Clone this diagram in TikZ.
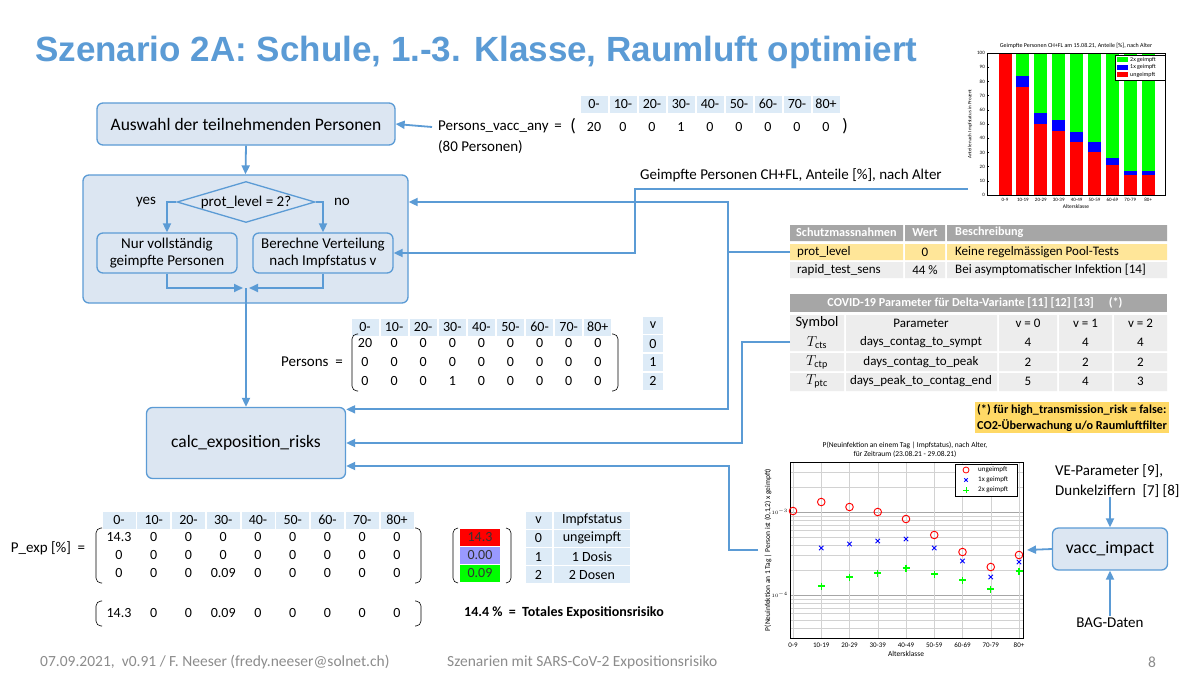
\documentclass[tikz,border=0pt]{standalone}
\usepackage{fontspec}
\setmainfont{Carlito}
\newfontfamily\titlefont{Liberation Sans}
\usetikzlibrary{arrows.meta,shapes.geometric,positioning}
\definecolor{flowblue}{HTML}{5B9BD5}
\definecolor{boxfill}{HTML}{DCE6F2}
\definecolor{hdrblue}{HTML}{DDEBF7}
\definecolor{tabgray}{HTML}{A6A6A6}
\definecolor{rowgray}{HTML}{EDEDED}
\definecolor{roworange}{HTML}{FFE699}
\definecolor{notegold}{HTML}{FFD966}
\definecolor{footgray}{HTML}{8C8C8C}
\definecolor{lavender}{HTML}{9999FF}
\newcommand{\fsz}[2]{\fontsize{#1}{#2}\selectfont}
\newcommand{\agelist}{0-,10-,20-,30-,40-,50-,60-,70-,80+}
\tikzset{
  flowbox/.style={draw=flowblue, fill=boxfill, line width=1.3pt, rounded corners=6pt, align=center, inner sep=2pt},
  flow/.style={draw=flowblue, line width=1.8pt, -{Triangle[length=9pt,width=8pt]}},
  hdr/.style={fill=hdrblue, minimum width=27pt, minimum height=17pt, inner sep=0pt, font=\fsz{14}{16}},
  mtxt/.style={inner sep=0pt, font=\fsz{14}{16}},
  mparen/.style={line width=0.6pt, rounded corners=5pt},
  ttxt/.style={inner sep=0pt, font=\fsz{13}{15}},
  thdr/.style={inner sep=0pt, text=white, font={\bfseries\fsz{12.2}{14}}},
  tiny/.style={inner sep=0pt, font=\fsz{5}{6}}
}
\begin{document}
\begin{tikzpicture}[x=1pt,y=-1pt]
\useasboundingbox[fill=white] (0,0) rectangle (1200,675);

% title
\node[anchor=west, inner sep=0pt, text=flowblue, font={\titlefont\bfseries\fsz{35}{40}}] (title) at (35,52) {Szenario 2A: Schule, 1.-3. Klasse, Raumluft optimiert};

% flow chart
\node[flowbox, minimum width=325pt, minimum height=128pt] (grp) at (245.5,239) {};
\node[flowbox, minimum width=298pt, minimum height=42pt, font=\fsz{17.5}{20}] (sel) at (246,124) {Auswahl der teilnehmenden Personen};
\node[diamond, draw=flowblue, line width=1.3pt, fill=boxfill, aspect=3.4, inner sep=0pt, minimum width=138pt, minimum height=41pt, font=\fsz{15}{18}] (dec) at (246,202) {prot\_level = 2?};
\node[font=\fsz{15}{18}] (yes) at (146,202) {yes};
\node[font=\fsz{15}{18}] (no) at (342,202) {no};
\node[flowbox, minimum width=140pt, minimum height=40pt, font=\fsz{15}{17}] (full) at (167,253) {Nur vollständig\\geimpfte Personen};
\node[flowbox, minimum width=140pt, minimum height=40pt, font=\fsz{15}{17}] (dist) at (323,253) {Berechne Verteilung\\nach Impfstatus v};
\node[flowbox, minimum width=199pt, minimum height=71pt, font=\fsz{17.5}{20}] (calc) at (246,443) {calc\_exposition\_risks};
\node[flowbox, minimum width=115pt, minimum height=42pt, font=\fsz{17.5}{20}] (vacc) at (1110,549) {vacc\_impact};
\coordinate (join) at (246,288);

\draw[flow] (sel.south) -- (grp.north);
\draw[flow] (dec.west) -| (full.north);
\draw[flow] (dec.east) -| (dist.north);
\draw[flow] (full.south) |- ([xshift=-3pt]join);
\draw[flow] (dist.south) |- ([xshift=3pt]join);
\draw[flow] (join) -- (calc.north);

% Persons_vacc_any
\node[anchor=west, inner sep=0pt, font=\fsz{15}{18}] (pva) at (438,127) {Persons\_vacc\_any \,=};
\node[anchor=west, inner sep=0pt, font=\fsz{15}{18}] (pvan) at (438,147) {(80 Personen)};
\draw[flow] ([xshift=-6pt]pva.west) -- (sel.east);
\foreach \lab [count=\i from 0] in \agelist
  \node[hdr] (pvh\i) at (594+29*\i,104) {\lab};
\foreach \val [count=\i from 0] in {20,0,0,1,0,0,0,0,0}
  \node[mtxt] (pvv\i) at (594+29*\i,127) {\val};
\node[mtxt, font=\fsz{18}{20}] (pvl) at (573,126) {(};
\node[mtxt, font=\fsz{18}{20}] (pvr) at (845,126) {)};

% Persons matrix
\node[mtxt, font=\fsz{15}{18}] (pers) at (312,362) {Persons \ =};
\foreach \lab [count=\i from 0] in \agelist
  \node[hdr] (pmh\i) at (365+29.1*\i,327) {\lab};
\foreach \row [count=\r from 0] in {{20,0,0,0,0,0,0,0,0},{0,0,0,0,0,0,0,0,0},{0,0,0,1,0,0,0,0,0}}
  \foreach \val [count=\i from 0] in \row
    \node[mtxt] (pm\r-\i) at (365+29.1*\i,343+19*\r) {\val};
\draw[mparen] (358,334) -- (352,334) -- (352,391) -- (358,391);
\draw[mparen] (612,334) -- (618,334) -- (618,391) -- (612,391);
\foreach \lab [count=\r from 0] in {v,0,1,2}
  \node[hdr, minimum width=20pt] (pmv\r) at (653,325+18.7*\r) {\lab};

% P_exp matrix
\node[mtxt, font=\fsz{15}{18}] (pexp) at (48,548) {P\_exp [\%] \ =};
\foreach \lab [count=\i from 0] in \agelist
  \node[hdr, minimum width=33pt] (peh\i) at (119+34.75*\i,520) {\lab};
\foreach \row [count=\r from 0] in {{14.3,0,0,0,0,0,0,0,0},{0,0,0,0,0,0,0,0,0},{0,0,0,0.09,0,0,0,0,0}}
  \foreach \val [count=\i from 0] in \row
    \node[mtxt] (pe\r-\i) at (119+34.75*\i,537+18*\r) {\val};
\draw[mparen] (102,528) -- (96,528) -- (96,583) -- (102,583);
\draw[mparen] (415,528) -- (421,528) -- (421,583) -- (415,583);
\foreach \val [count=\i from 0] in {14.3,0,0,0.09,0,0,0,0,0}
  \node[mtxt] (ps\i) at (119+34.75*\i,613) {\val};
\draw[mparen] (102,601) -- (96,601) -- (96,626) -- (102,626);
\draw[mparen] (415,601) -- (421,601) -- (421,626) -- (415,626);

% risk per vaccination status
\foreach \val/\col [count=\r from 0] in {14.3/red,0.00/lavender,0.09/green}
  \node[mtxt, fill=\col, text=black!80, minimum width=40pt, minimum height=17pt] (pv\r) at (480,537+18*\r) {\val};
\draw[mparen] (458,528) -- (453,528) -- (453,583) -- (458,583);
\draw[mparen] (506,528) -- (511,528) -- (511,583) -- (506,583);
\foreach \v/\lab [count=\r from 0] in {v/Impfstatus,0/ungeimpft,1/1 Dosis,2/2 Dosen} {
  \node[hdr, minimum width=26pt] (iv\r) at (538.5,520+18.3*\r) {\v};
  \node[hdr, minimum width=76pt] (is\r) at (592,520+18.3*\r) {\lab};
}
\node[anchor=west, inner sep=0pt, font={\bfseries\fsz{14}{16}}] (tot) at (464,613) {14.4 \% \ = \ Totales Expositionsrisiko};

% Schutzmassnahmen table
\fill[tabgray] (790,225) rectangle (903,241) (905,225) rectangle (945,241) (947,225) rectangle (1167,241);
\fill[roworange] (790,244) rectangle (903,260) (905,244) rectangle (945,260) (947,244) rectangle (1167,260);
\fill[rowgray] (790,262) rectangle (903,278) (905,262) rectangle (945,278) (947,262) rectangle (1167,278);
\node[thdr, anchor=west] (sh1) at (796,232.5) {Schutzmassnahmen};
\node[thdr] (sh2) at (925,232.5) {Wert};
\node[thdr, anchor=west] (sh3) at (955,232.5) {Beschreibung};
\node[ttxt, anchor=west] (prot) at (797,252) {prot\_level};
\node[ttxt] (protv) at (925,252) {0};
\node[ttxt, anchor=west] (protd) at (955,252) {Keine regelmässigen Pool-Tests};
\node[ttxt, anchor=west] (rts) at (797,270) {rapid\_test\_sens};
\node[ttxt] (rtsv) at (925,270) {44 \%};
\node[ttxt, anchor=west] (rtsd) at (955,270) {Bei asymptomatischer Infektion [14]};
\coordinate (protW) at (790,252);

% COVID-19 parameter table
\fill[tabgray] (790,294) rectangle (1167,312);
\node[thdr] (cvt) at (975,303) {COVID-19 Parameter für Delta-Variante [11] [12] [13] \quad (*)};
\foreach \y in {315,333,353,373}
  \fill[rowgray] (790,\y) rectangle (844,\y+18) (846,\y) rectangle (997,\y+18) (999,\y) rectangle (1057,\y+18) (1059,\y) rectangle (1112,\y+18) (1114,\y) rectangle (1167,\y+18);
\foreach \sym/\prm/\va/\vb/\vc [count=\r from 0] in {Symbol/Parameter/v = 0/v = 1/v = 2,
    $T_{\mathrm{cts}}$/days\_contag\_to\_sympt/4/4/4,
    $T_{\mathrm{ctp}}$/days\_contag\_to\_peak/2/2/2,
    $T_{\mathrm{ptc}}$/days\_peak\_to\_contag\_end/5/4/3} {
  \node[ttxt] (cs\r) at (817,323+19.5*\r) {\fsz{14.4}{16}\sym};
  \node[ttxt] (cp\r) at (921,323+19.5*\r) {\prm};
  \node[ttxt] (ca\r) at (1028,323+19.5*\r) {\va};
  \node[ttxt] (cb\r) at (1085.5,323+19.5*\r) {\vb};
  \node[ttxt] (cc\r) at (1140.5,323+19.5*\r) {\vc};
}
\coordinate (tctsW) at (790,342);
\node[fill=notegold, minimum width=190pt, minimum height=31pt, inner sep=2pt, align=left, font={\bfseries\fsz{12.2}{16}}] (note) at (1072,417.5) {(*) für high\_transmission\_risk = false:\\CO2-Überwachung u/o Raumluftfilter};

% top right chart: vaccinated persons per age class
\node[anchor=west, inner sep=0pt, font=\fsz{15}{18}] (vlab) at (640,175) {Geimpfte Personen CH+FL, Anteile [\%], nach Alter};
\node[tiny, font=\fsz{6}{7}] (ct) at (1076,46) {Geimpfte Personen CH+FL am 15.08.21, Anteile [\%], nach Alter};
\foreach \u/\o/\lab [count=\i from 0] in {100/0/0-9,76/8/10-19,50/8/20-29,45/8/30-39,37/7.5/40-49,30/7/50-59,21/5/60-69,14/3/70-79,14/3/80+} {
  \fill[green] (1005+17.9*\i-6.5,53) rectangle (1005+17.9*\i+6.5,195-1.42*\u-1.42*\o);
  \fill[blue] (1005+17.9*\i-6.5,195-1.42*\u-1.42*\o) rectangle (1005+17.9*\i+6.5,195-1.42*\u);
  \fill[red] (1005+17.9*\i-6.5,195-1.42*\u) rectangle (1005+17.9*\i+6.5,195);
  \node[tiny, font=\fsz{5}{6}] (bx\i) at (1005+17.9*\i,200) {\lab};
}
\draw[line width=0.4pt] (987,53) rectangle (1165,195);
\foreach \t in {0,10,...,100} {
  \draw[line width=0.3pt] (987,195-1.42*\t) -- ++(2,0);
  \node[tiny, font=\fsz{5}{6}, anchor=east] (by\t) at (985,195-1.42*\t) {\t};
}
\node[tiny, font=\fsz{5}{6}, rotate=90] (byl) at (970,124) {Anteile nach Impfstatus in Prozent};
\node[tiny, font=\fsz{5.5}{6}] (bxl) at (1076,207) {Altersklasse};
\draw[fill=white, line width=0.3pt] (1115,55) rectangle (1165,80);
\foreach \col/\lab [count=\r from 0] in {green/2x geimpft,blue/1x geimpft,red/ungeimpft} {
  \fill[\col] (1117,57+7.7*\r) rectangle (1128,62+7.7*\r);
  \node[tiny, font=\fsz{6}{7}, anchor=west] (bl\r) at (1130,59.5+7.7*\r) {\lab};
}
\coordinate (chartA) at (968,189);

% bottom right chart: new infection probability
\node[tiny, font=\fsz{7.5}{8}] (pt1) at (905,445) {P(Neuinfektion an einem Tag | Impfstatus), nach Alter,};
\node[tiny, font=\fsz{7.5}{8}] (pt2) at (905,454) {für Zeitraum (23.08.21 - 29.08.21)};
\begin{scope}
  \clip (790,462) rectangle (1023,638);
  \foreach \d in {-5,-4,-3}
    \foreach \m in {1,...,9}
      \draw[gray!35, line width=0.3pt] (790,{512-83*(\d+3+log10(\m))}) -- (1023,{512-83*(\d+3+log10(\m))});
  \foreach \d in {-4,-3}
    \draw[gray!70, line width=0.4pt] (790,{512-83*(\d+3)}) -- (1023,{512-83*(\d+3)});
  \foreach \i in {0,...,8}
    \draw[gray!35, line width=0.3pt] (793+28.25*\i,462) -- (793+28.25*\i,638);
\end{scope}
\draw[line width=0.4pt] (790,462) rectangle (1023,638);
\foreach \yy [count=\i from 0] in {511,502,507,512,519,535,552,567,555}
  \draw[red, line width=0.9pt] (793+28.25*\i,\yy) circle (3.8pt);
\foreach \yy [count=\i from 1] in {548,544,541,539,548,561,577,562}
  \draw[blue, line width=1pt] (793+28.25*\i-2.2,\yy-2.2) -- ++(4.4,4.4) (793+28.25*\i-2.2,\yy+2.2) -- ++(4.4,-4.4);
\foreach \yy [count=\i from 1] in {586,577,573,568,574,580,589,571}
  \draw[green, line width=1.1pt] (793+28.25*\i-3.5,\yy) -- ++(7,0) (793+28.25*\i,\yy-3.5) -- ++(0,7);
\foreach \lab [count=\i from 0] in {0-9,10-19,20-29,30-39,40-49,50-59,60-69,70-79,80+}
  \node[tiny, font=\fsz{7}{8}] (px\i) at (793+28.25*\i,645) {\lab};
\node[tiny, font=\fsz{7.5}{8}] (pxl) at (906,654) {Altersklasse};
\node[tiny, font=\fsz{5}{6}, anchor=east] (py3) at (788,512) {$10^{-3}$};
\node[tiny, font=\fsz{5}{6}, anchor=east] (py4) at (788,595) {$10^{-4}$};
\node[tiny, font=\fsz{7.5}{8}, rotate=90] (pyl) at (768,550) {P(Neuinfektion an 1 Tag | Person ist (0,1,2) x geimpft)};
\draw[fill=white, line width=0.3pt] (955,464) rectangle (1017,496);
\draw[red, line width=0.8pt] (966,470) circle (3pt);
\draw[blue, line width=0.9pt] (964.3,478.3) -- ++(3.4,3.4) (964.3,481.7) -- ++(3.4,-3.4);
\draw[green, line width=1pt] (963,490) -- ++(6,0) (966,487) -- ++(0,6);
\node[tiny, font=\fsz{7}{8}, anchor=west] (pl1) at (978,470) {ungeimpft};
\node[tiny, font=\fsz{7}{8}, anchor=west] (pl2) at (978,480) {1x geimpft};
\node[tiny, font=\fsz{7}{8}, anchor=west] (pl3) at (978,490) {2x geimpft};
\coordinate (riskL) at (758,550);
\coordinate (riskR) at (1027,550);

% vacc_impact inputs
\node[anchor=north west, align=left, inner sep=0pt, font=\fsz{15}{20}] (ve) at (1055,464) {VE-Parameter [9],\\Dunkelziffern \ [7] [8]};
\node[inner sep=2pt, font=\fsz{15}{18}] (bag) at (1110,623) {BAG-Daten};
\draw[flow] (vacc.north |- ve.south) -- (vacc.north);
\draw[flow] (bag.north -| vacc.south) -- (vacc.south);

% connectors into the flow chart
\coordinate (tap) at (728,252);
\draw[flow] (chartA) -- (635,189) |- (dist.east);
\draw[flow] (protW) -- (tap) |- (grp.east |- dec.center);
\draw[flow] (tap) |- ([yshift=-2.5pt]calc.north east);
\draw[flow] (tctsW) -| (742,443) -- (calc.east);
\draw[flow] (riskL) -| (729,466) -- (calc.east |- 0,466);
\draw[flow] (vacc.west) -- (riskR);

% footer
\node[anchor=west, inner sep=0pt, text=footgray, font=\fsz{15.5}{17}] (f1) at (40,662) {07.09.2021, \ v0.91 / F. Neeser (fredy.neeser@solnet.ch)};
\node[anchor=west, inner sep=0pt, text=footgray, font=\fsz{15.5}{17}] (f2) at (447,662) {Szenarien mit SARS-CoV-2 Expositionsrisiko};
\node[inner sep=0pt, text=footgray, font=\fsz{15.5}{17}] (f3) at (1152,662) {8};
\end{tikzpicture}
\end{document}
